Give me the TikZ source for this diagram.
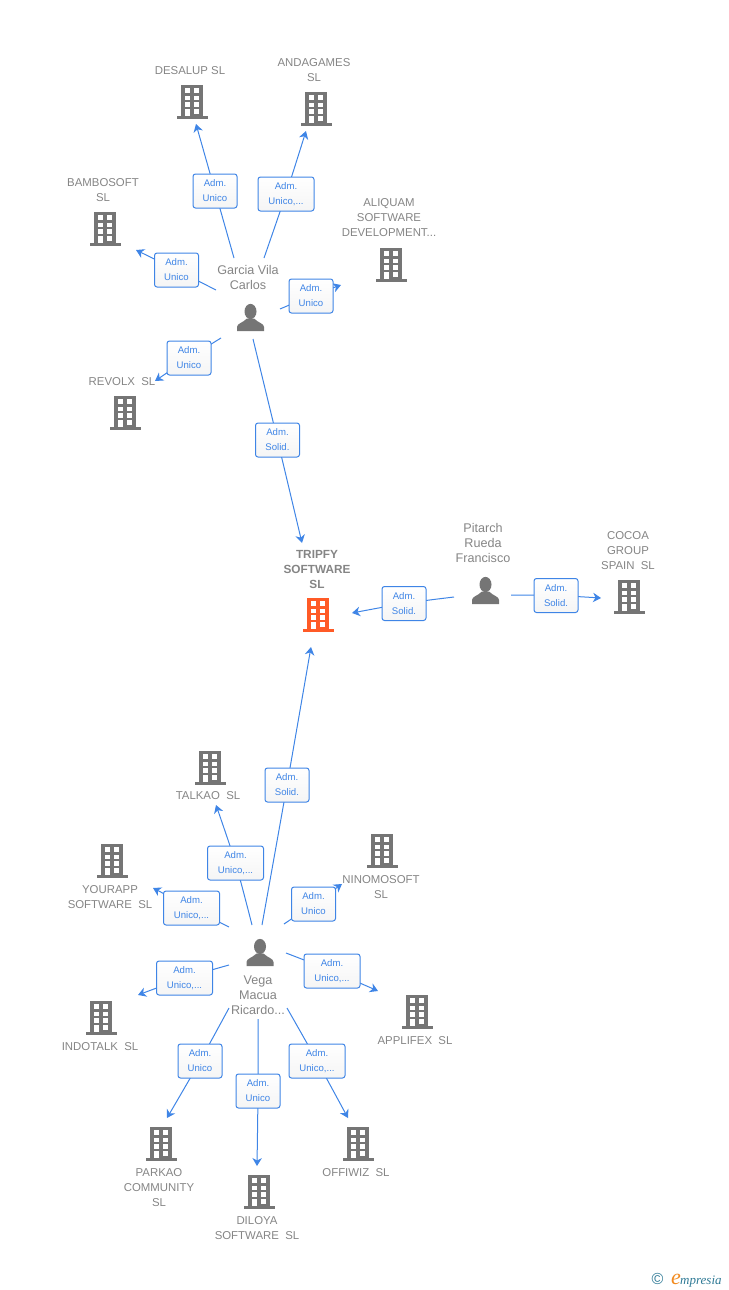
\documentclass[tikz,border=0pt]{standalone}
\usepackage{fontspec}
\setmainfont{Liberation Sans}
\newfontfamily\logofont{Liberation Serif}
\usetikzlibrary{arrows.meta,backgrounds}
\definecolor{iconc}{HTML}{757575}
\definecolor{mainc}{HTML}{FF5A26}
\definecolor{textc}{HTML}{858585}
\definecolor{linkc}{HTML}{3F85E6}
\definecolor{logoc}{HTML}{2F7A96}
\definecolor{logoe}{HTML}{F28A1E}
\tikzset{
  building/.style={inner sep=0pt,minimum width=32pt,minimum height=35pt,
    path picture={\begin{scope}[shift={(path picture bounding box.center)}]
      \fill[#1] (-11,-16) rectangle (11.3,15);
      \fill[#1] (-15.5,15) rectangle (15.5,17.5);
      \fill[white] (-7,-12.7) rectangle (-2.4,-7.8);
      \fill[white] (2.4,-12.7) rectangle (7.2,-7.8);
      \fill[white] (-7,-5.4) rectangle (-2.4,-1);
      \fill[white] (2.4,-5.4) rectangle (7.2,-1);
      \fill[white] (-7,1.3) rectangle (-2.4,6);
      \fill[white] (2.4,1.3) rectangle (7.2,6);
      \fill[white] (-7,8.2) rectangle (-2.4,15);
      \fill[white] (2.4,8.2) rectangle (7.2,12.6);
    \end{scope}}},
  building/.default=iconc,
  person/.style={inner sep=0pt,minimum width=28pt,minimum height=28pt,
    path picture={\begin{scope}[shift={(path picture bounding box.center)}]
      \fill[iconc] (0,-6) ellipse (6 and 7.6);
      \fill[iconc] (-13.5,13.6) -- (-13.5,9.5) .. controls (-13.5,6) and (-8,5.5) .. (-3.5,1) -- (3.5,1) .. controls (8,5.5) and (13.5,6) .. (13.5,9.5) -- (13.5,13.6) -- cycle;
    \end{scope}}},
  company/.style={text=textc,align=center,inner sep=0pt,font=\fontsize{11.4}{15}\selectfont},
  owner/.style={text=textc,align=center,inner sep=0pt,font=\fontsize{12.6}{15}\selectfont},
  role/.style={draw=linkc,line width=1pt,rounded corners=2.5pt,top color=white,bottom color=black!4,
    text=linkc,align=center,inner sep=0pt,minimum width=44pt,minimum height=34pt,font=\fontsize{9.6}{15}\selectfont},
  rolewide/.style={role,minimum width=56pt},
  link/.style={draw=linkc,line width=1pt,-{Stealth[length=8pt,width=9.5pt,inset=2.5pt]}},
}
\begin{document}
\begin{tikzpicture}[x=1pt,y=-1pt]
\useasboundingbox (0,0) rectangle (728,1290);
% companies
\node[building] (desalup) at (192,101) {};
\node[company] (desaluptxt) at (190,71) {DESALUP SL};
\node[building] (andagames) at (316,108) {};
\node[company] (andagamestxt) at (314,70.5) {ANDAGAMES\\SL};
\node[building] (bambosoft) at (105,228) {};
\node[company] (bambosofttxt) at (103,190.5) {BAMBOSOFT\\SL};
\node[building] (aliquam) at (391,264) {};
\node[company] (aliquamtxt) at (389,218) {ALIQUAM\\SOFTWARE\\DEVELOPMENT...};
\node[building] (revolx) at (125,412) {};
\node[company] (revolxtxt) at (122,382) {REVOLX~~SL};
\node[building=mainc] (tripfy) at (318,614) {};
\node[company,font=\fontsize{11.8}{15}\selectfont\bfseries] (tripfytxt) at (317,569) {TRIPFY\\SOFTWARE\\SL};
\node[building] (cocoa) at (629,596) {};
\node[company] (cocoatxt) at (628,551) {COCOA\\GROUP\\SPAIN~~SL};
\node[building] (talkao) at (210,767) {};
\node[company] (talkaotxt) at (208,796) {TALKAO~~SL};
\node[building] (yourapp) at (112,860) {};
\node[company] (yourapptxt) at (110,897) {YOURAPP\\SOFTWARE~~SL};
\node[building] (ninomosoft) at (382,850) {};
\node[company] (ninomosofttxt) at (381,887.5) {NINOMOSOFT\\SL};
\node[building] (indotalk) at (101,1017) {};
\node[company] (indotalktxt) at (100,1047) {INDOTALK~~SL};
\node[building] (applifex) at (417,1011) {};
\node[company] (applifextxt) at (415,1041) {APPLIFEX~~SL};
\node[building] (parkao) at (161,1143) {};
\node[company] (parkaotxt) at (159,1188) {PARKAO\\COMMUNITY\\SL};
\node[building] (diloya) at (259,1191) {};
\node[company] (diloyatxt) at (257,1228.5) {DILOYA\\SOFTWARE~~SL};
\node[building] (offiwiz) at (358,1143) {};
\node[company] (offiwiztxt) at (356,1173) {OFFIWIZ~~SL};
% people
\node[person] (garcia) at (250.5,317.5) {};
\node[owner] (garciatxt) at (248,277.5) {Garcia Vila\\Carlos};
\node[person] (pitarch) at (485.5,590.5) {};
\node[owner] (pitarchtxt) at (483,543) {Pitarch\\Rueda\\Francisco};
\node[person] (vega) at (260,952.5) {};
\node[owner] (vegatxt) at (258,995) {Vega\\Macua\\Ricardo...};
% roles
\node[role] (rdesalup) at (215,191) {Adm.\\Unico};
\node[rolewide] (randagames) at (286,194) {Adm.\\Unico,...};
\node[role] (rbambosoft) at (176.5,270) {Adm.\\Unico};
\node[role] (raliquam) at (311,296) {Adm.\\Unico};
\node[role] (rrevolx) at (189,358) {Adm.\\Unico};
\node[role] (rgarcia) at (277.5,440) {Adm.\\Solid.};
\node[role] (rpitleft) at (404,603.5) {Adm.\\Solid.};
\node[role] (rpitright) at (556,595.5) {Adm.\\Solid.};
\node[role] (rvega) at (287,785) {Adm.\\Solid.};
\node[rolewide] (rtalkao) at (235.5,863) {Adm.\\Unico,...};
\node[rolewide] (ryourapp) at (191.5,908) {Adm.\\Unico,...};
\node[role] (rninomosoft) at (313.5,904) {Adm.\\Unico};
\node[rolewide] (rindotalk) at (184.5,978) {Adm.\\Unico,...};
\node[rolewide] (rapplifex) at (332,971) {Adm.\\Unico,...};
\node[role] (rparkao) at (200,1061) {Adm.\\Unico};
\node[role] (rdiloya) at (258,1091) {Adm.\\Unico};
\node[rolewide] (roffiwiz) at (317,1061) {Adm.\\Unico,...};
% free ends
\coordinate (s1) at (234,258); \coordinate (e1) at (196,124);
\coordinate (s2) at (264,258); \coordinate (e2) at (306,131);
\coordinate (s3) at (216,290); \coordinate (e3) at (136,250);
\coordinate (s4) at (280,309); \coordinate (e4) at (341,285);
\coordinate (s5) at (221,338); \coordinate (e5) at (155,381);
\coordinate (s6) at (253,339); \coordinate (e6) at (302,543);
\coordinate (s7) at (454,597); \coordinate (e7) at (352,613);
\coordinate (s8) at (511,595); \coordinate (e8) at (601,598);
\coordinate (s9) at (262,925); \coordinate (e9) at (311,647);
\coordinate (s10) at (252,925); \coordinate (e10) at (216,805);
\coordinate (s11) at (229,927); \coordinate (e11) at (153,888);
\coordinate (s12) at (284,924); \coordinate (e12) at (342,884);
\coordinate (s13) at (229,965); \coordinate (e13) at (138,995);
\coordinate (s14) at (286,953); \coordinate (e14) at (378,991);
\coordinate (s15) at (229,1008); \coordinate (e15) at (167,1118);
\coordinate (s16) at (258,1019); \coordinate (e16) at (257,1166);
\coordinate (s17) at (287,1008); \coordinate (e17) at (348,1118);
% connectors go under the boxes
\begin{pgfonlayer}{background}
\draw[link] plot[smooth,tension=.5] coordinates {(s1) (rdesalup) (e1)};
\draw[link] plot[smooth,tension=.5] coordinates {(s2) (randagames) (e2)};
\draw[link] plot[smooth,tension=.5] coordinates {(s3) (rbambosoft) (e3)};
\draw[link] plot[smooth,tension=.5] coordinates {(s4) (raliquam) (e4)};
\draw[link] plot[smooth,tension=.5] coordinates {(s5) (rrevolx) (e5)};
\draw[link] plot[smooth,tension=.5] coordinates {(s6) (rgarcia) (e6)};
\draw[link] plot[smooth,tension=.5] coordinates {(s7) (rpitleft) (e7)};
\draw[link] plot[smooth,tension=.5] coordinates {(s8) (rpitright) (e8)};
\draw[link] plot[smooth,tension=.5] coordinates {(s9) (rvega) (e9)};
\draw[link] plot[smooth,tension=.5] coordinates {(s10) (rtalkao) (e10)};
\draw[link] plot[smooth,tension=.5] coordinates {(s11) (ryourapp) (e11)};
\draw[link] plot[smooth,tension=.5] coordinates {(s12) (rninomosoft) (e12)};
\draw[link] plot[smooth,tension=.5] coordinates {(s13) (rindotalk) (e13)};
\draw[link] plot[smooth,tension=.5] coordinates {(s14) (rapplifex) (e14)};
\draw[link] plot[smooth,tension=.5] coordinates {(s15) (rparkao) (e15)};
\draw[link] plot[smooth,tension=.5] coordinates {(s16) (rdiloya) (e16)};
\draw[link] plot[smooth,tension=.5] coordinates {(s17) (roffiwiz) (e17)};
\end{pgfonlayer}
% logo
\node[text=logoc,inner sep=0pt,font=\fontsize{16}{16}\selectfont] (logoc) at (657.5,1279) {©};
\node[text=logoe,inner sep=0pt,anchor=base east,font=\logofont\itshape\fontsize{22}{22}\selectfont] (logoa) at (681,1284) {e};
\node[text=logoc,inner sep=0pt,anchor=base west,font=\logofont\itshape\fontsize{13}{13}\selectfont] (logob) at (680,1284) {mpresia};
\end{tikzpicture}
\end{document}
